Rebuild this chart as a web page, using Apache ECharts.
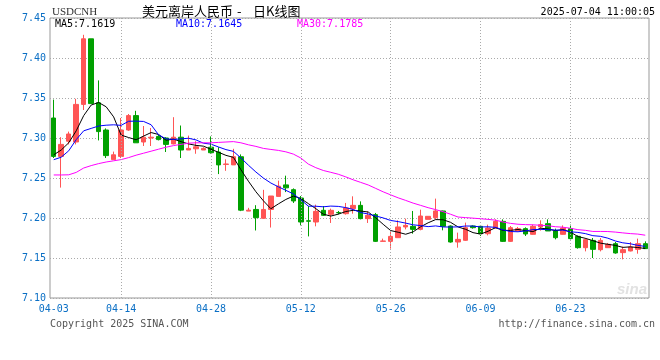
<!DOCTYPE html>
<html><head><meta charset="utf-8">
<script src="https://cdn.jsdelivr.net/npm/echarts@6/dist/echarts.min.js"></script>
<style>html,body{margin:0;padding:0;background:#fff}#c{width:660px;height:360px}</style>
</head><body><div id="c"></div>
<script>
const dates = ['04-03','04-04','04-05','04-07','04-08','04-09','04-10','04-11','04-12','04-14','04-15','04-16','04-17','04-18','04-19','04-21','04-22','04-23','04-24','04-25','04-26','04-28','04-29','04-30',
'05-01','05-02','05-03','05-05','05-06','05-07','05-08','05-09','05-10','05-12','05-13','05-14','05-15','05-16','05-17','05-19','05-20','05-21','05-22','05-23','05-24','05-26','05-27','05-28','05-29','05-30','05-31',
'06-02','06-03','06-04','06-05','06-06','06-07','06-09','06-10','06-11','06-12','06-13','06-14','06-16','06-17','06-18','06-19','06-20','06-21','06-23','06-24','06-25','06-26','06-27','06-28','06-30',
'07-01','07-02','07-03','07-04'];

const opens = [7.3250,7.2770,7.2960,7.2950,7.3420,7.4240,7.3440,7.3100,7.2730,7.2770,7.3100,7.3280,7.2950,7.3000,7.3020,7.3000,7.2926,7.3010,7.2850,7.2865,
7.2850,7.2885,7.2824,7.2670,7.2664,7.2766,7.2086,7.2107,7.1996,7.2107,7.2270,7.2414,7.2354,7.2250,7.1965,7.1950,7.2096,7.2046,7.2068,7.2054,
7.2117,7.2158,7.1992,7.2042,7.1708,7.1708,7.1754,7.1888,7.1896,7.1858,7.1983,7.2004,7.2088,7.1900,7.1700,7.1721,7.1900,7.1896,7.1804,7.1875,
7.1958,7.1708,7.1838,7.1867,7.1796,7.1888,7.1929,7.1838,7.1796,7.1867,7.1771,7.1629,7.1720,7.1604,7.1629,7.1679,7.1567,7.1588,7.1608,7.1679];
const closes = [7.2770,7.2920,7.3050,7.3420,7.4240,7.3430,7.3080,7.2780,7.2790,7.3100,7.3280,7.2940,7.3010,7.3010,7.2980,7.2920,7.3010,7.2850,7.2870,7.2890,
7.2870,7.2816,7.2664,7.2675,7.2766,7.2098,7.2098,7.2004,7.2107,7.2275,7.2398,7.2377,7.2213,7.1950,7.1960,7.2083,7.2033,7.2096,7.2066,7.2125,
7.2158,7.1992,7.2033,7.1708,7.1713,7.1770,7.1888,7.1908,7.1858,7.2025,7.2021,7.2088,7.1896,7.1700,7.1733,7.1879,7.1879,7.1804,7.1875,7.1958,
7.1708,7.1879,7.1867,7.1800,7.1896,7.1917,7.1838,7.1754,7.1875,7.1742,7.1629,7.1729,7.1608,7.1720,7.1671,7.1563,7.1604,7.1638,7.1679,7.1617];
const lows = [7.2750,7.2380,7.2920,7.2920,7.3350,7.3430,7.2970,7.2750,7.2730,7.2750,7.3090,7.2940,7.2900,7.2900,7.2970,7.2825,7.2920,7.2750,7.2850,7.2803,
7.2850,7.2805,7.2549,7.2590,7.2664,7.2086,7.2086,7.1844,7.1996,7.1881,7.2270,7.2324,7.2188,7.1908,7.1770,7.1896,7.2025,7.1938,7.2046,7.2042,
7.2054,7.1983,7.1938,7.1700,7.1708,7.1617,7.1754,7.1858,7.1804,7.1846,7.1983,7.1983,7.1846,7.1692,7.1629,7.1713,7.1867,7.1775,7.1783,7.1867,
7.1700,7.1700,7.1833,7.1775,7.1792,7.1842,7.1838,7.1733,7.1792,7.1733,7.1617,7.1583,7.1500,7.1583,7.1629,7.1554,7.1483,7.1583,7.1554,7.1617];
const highs = [7.3480,7.3010,7.3080,7.3490,7.4290,7.4240,7.3720,7.3120,7.2830,7.3250,7.3300,7.3340,7.3150,7.3125,7.3040,7.3010,7.3260,7.3156,7.3030,7.2960,
7.2885,7.3020,7.2885,7.2734,7.2865,7.2795,7.2127,7.2160,7.2352,7.2275,7.2467,7.2529,7.2370,7.2275,7.2150,7.2167,7.2150,7.2117,7.2088,7.2188,
7.2271,7.2208,7.2083,7.2063,7.1742,7.1833,7.1971,7.1992,7.2088,7.2104,7.2025,7.2242,7.2092,7.1908,7.1817,7.1942,7.1908,7.1896,7.1917,7.1983,
7.1983,7.1900,7.1888,7.1883,7.1917,7.1971,7.1983,7.1867,7.1908,7.1917,7.1783,7.1750,7.1750,7.1750,7.1688,7.1700,7.1642,7.1700,7.1742,7.1708];

const ma5 = [7.2790,7.2850,7.2940,7.3090,7.3280,7.3412,7.3444,7.3390,7.3264,7.3036,7.3006,7.2978,7.3024,7.3068,7.3044,7.2972,7.2986,7.2954,7.2926,7.2908,
7.2898,7.2859,7.2822,7.2783,7.2758,7.2604,7.2460,7.2328,7.2215,7.2116,7.2176,7.2232,7.2274,7.2243,7.2180,7.2117,7.2048,7.2024,7.2048,7.2081,
7.2096,7.2087,7.2075,7.2003,7.1921,7.1843,7.1822,7.1797,7.1827,7.1890,7.1940,7.1980,7.1978,7.1946,7.1888,7.1859,7.1817,7.1799,7.1834,7.1879,
7.1845,7.1845,7.1857,7.1842,7.1830,7.1872,7.1864,7.1841,7.1856,7.1825,7.1768,7.1746,7.1717,7.1686,7.1671,7.1658,7.1633,7.1639,7.1631,7.1619];
const ma10 = [7.2729,7.2760,7.2840,7.2980,7.3090,7.3120,7.3150,7.3160,7.3165,7.3158,7.3209,7.3211,7.3207,7.3166,7.3040,7.2989,7.2982,7.2989,7.2997,7.2976,
7.2935,7.2923,7.2888,7.2855,7.2833,7.2751,7.2660,7.2575,7.2499,7.2437,7.2390,7.2346,7.2301,7.2229,7.2148,7.2147,7.2140,7.2149,7.2145,7.2130,
7.2106,7.2068,7.2050,7.2025,7.2001,7.1969,7.1955,7.1936,7.1915,7.1905,7.1892,7.1901,7.1888,7.1887,7.1889,7.1900,7.1899,7.1888,7.1890,7.1883,
7.1852,7.1831,7.1828,7.1838,7.1855,7.1858,7.1854,7.1849,7.1849,7.1828,7.1820,7.1805,7.1779,7.1771,7.1748,7.1713,7.1690,7.1678,7.1658,7.1645];
const ma30 = [7.2538,7.2538,7.2540,7.2570,7.2625,7.2655,7.2680,7.2700,7.2715,7.2730,7.2755,7.2785,7.2810,7.2835,7.2860,7.2885,7.2905,7.2920,7.2935,7.2940,
7.2940,7.2940,7.2945,7.2950,7.2955,7.2940,7.2915,7.2895,7.2870,7.2857,7.2845,7.2827,7.2799,7.2750,7.2674,7.2629,7.2594,7.2571,7.2547,7.2514,
7.2477,7.2445,7.2413,7.2370,7.2327,7.2289,7.2252,7.2220,7.2186,7.2158,7.2129,7.2105,7.2079,7.2047,7.2012,7.2005,7.1998,7.1991,7.1983,7.1973,
7.1950,7.1933,7.1922,7.1917,7.1915,7.1909,7.1903,7.1891,7.1885,7.1872,7.1854,7.1846,7.1832,7.1832,7.1831,7.1824,7.1814,7.1805,7.1799,7.1785];

const labelDates = ['04-03','04-14','04-28','05-12','05-26','06-09','06-23'];
const yMin = 7.10, yMax = 7.45, yStep = 0.05;

const MONO = '"DejaVu Sans Mono", "Liberation Mono", monospace';
const BLUE = '#0a6fc5';
const candles = dates.map((d, i) => [opens[i], closes[i], lows[i], highs[i]]);

const chart = echarts.init(document.getElementById('c'), null, {renderer: 'canvas'});
chart.setOption({
  animation: false,
  backgroundColor: '#fff',
  grid: {left: 50, right: 11, top: 18, bottom: 62, show: true, borderColor: '#999', borderWidth: 1, containLabel: false, outerBoundsMode: 'none'},
  xAxis: {
    type: 'category', data: dates, boundaryGap: true,
    axisLine: {show: false}, axisTick: {show: false},
    splitLine: {show: false},
    axisLabel: {
      interval: (idx, val) => labelDates.includes(val),
      color: BLUE, fontFamily: MONO, fontSize: 10, margin: 6
    }
  },
  yAxis: {
    type: 'value', min: yMin, max: yMax, interval: yStep, scale: true,
    axisLine: {show: false}, axisTick: {show: false},
    splitLine: {show: true, lineStyle: {color: '#aaa', type: [1, 2], width: 1}},
    axisLabel: {color: BLUE, fontFamily: MONO, fontSize: 10, margin: 4, formatter: v => v.toFixed(2)}
  },
  series: [
    {
      type: 'line', data: [], z: 1, silent: true,
      markLine: {
        silent: true, symbol: ['none', 'none'], label: {show: false}, animation: false,
        lineStyle: {color: '#aaa', type: [1, 2], width: 1},
        emphasis: {disabled: true},
        data: labelDates.slice(1).map(d => ({xAxis: d}))
      }
    },
    {
      type: 'candlestick', data: candles, barWidth: 5, z: 3,
      itemStyle: {color: '#ff5555', color0: '#00a000', borderColor: '#ff5555', borderColor0: '#00a000', borderWidth: 1}
    },
    {type: 'line', data: ma5, showSymbol: false, symbol: 'none', z: 4, lineStyle: {color: '#000', width: 1}},
    {type: 'line', data: ma10, showSymbol: false, symbol: 'none', z: 4, lineStyle: {color: '#0000ff', width: 1}},
    {type: 'line', data: ma30, showSymbol: false, symbol: 'none', z: 4, lineStyle: {color: '#ff00ff', width: 1}}
  ],
  graphic: [
    {type: 'text', x: 52, y: 12, style: {text: 'USDCNH', font: '11px "Liberation Serif", serif', fill: '#333', textVerticalAlign: 'middle', verticalAlign: 'middle'}},
    {type: 'text', x: 142, y: 11, style: {text: '美元离岸人民币', font: '13px "Noto Sans CJK SC"', fill: '#000', textVerticalAlign: 'middle', verticalAlign: 'middle'}},
    {type: 'text', x: 237, y: 11, style: {text: '-', font: '13px "Noto Sans CJK SC"', fill: '#000', textVerticalAlign: 'middle', verticalAlign: 'middle'}},
    {type: 'text', x: 253, y: 11, style: {text: '日K线图', font: '13px "Noto Sans CJK SC"', fill: '#000', textVerticalAlign: 'middle', verticalAlign: 'middle'}},
    {type: 'text', x: 655, y: 12, style: {text: '2025-07-04 11:00:05', font: '10px ' + MONO, fill: '#000', textAlign: 'right', align: 'right', textVerticalAlign: 'middle', verticalAlign: 'middle'}},
    {type: 'text', x: 55, y: 24, style: {text: 'MA5:' + ma5[ma5.length - 1].toFixed(4), font: '10px ' + MONO, fill: '#000', textVerticalAlign: 'middle', verticalAlign: 'middle'}},
    {type: 'text', x: 176, y: 24, style: {text: 'MA10:' + ma10[ma10.length - 1].toFixed(4), font: '10px ' + MONO, fill: '#0000ff', textVerticalAlign: 'middle', verticalAlign: 'middle'}},
    {type: 'text', x: 297, y: 24, style: {text: 'MA30:' + ma30[ma30.length - 1].toFixed(4), font: '10px ' + MONO, fill: '#ff00ff', textVerticalAlign: 'middle', verticalAlign: 'middle'}},
    {type: 'text', x: 647, y: 290, z: 0, style: {text: 'sina', font: 'italic bold 15px "Liberation Sans", sans-serif', fill: '#e2e2e2', textAlign: 'right', align: 'right', textVerticalAlign: 'middle', verticalAlign: 'middle'}},
    {type: 'text', x: 50, y: 324, style: {text: 'Copyright 2025 SINA.COM', font: '10px ' + MONO, fill: '#555', textVerticalAlign: 'middle', verticalAlign: 'middle'}},
    {type: 'text', x: 655, y: 324, style: {text: 'http://finance.sina.com.cn', font: '10px ' + MONO, fill: '#555', textAlign: 'right', align: 'right', textVerticalAlign: 'middle', verticalAlign: 'middle'}}
  ]
});
</script></body></html>
